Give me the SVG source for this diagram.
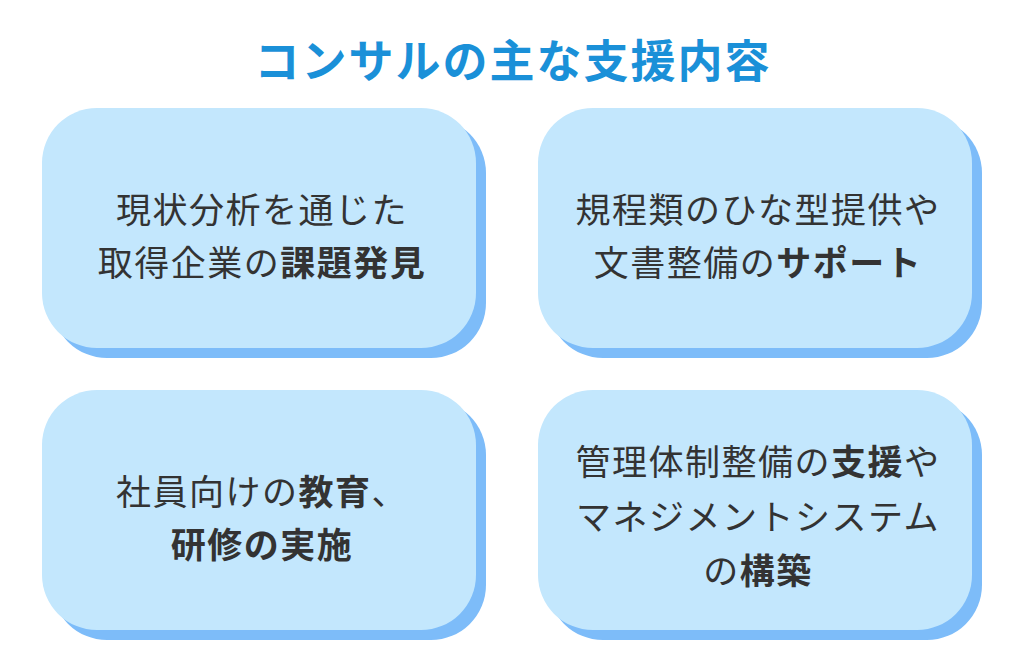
<svg xmlns="http://www.w3.org/2000/svg" width="1024" height="670" viewBox="0 0 1024 670">
<style>
.s{fill:#7dbcf9}.c{fill:#c3e7fd}
.t{font-family:"Noto Sans CJK JP","Noto Sans",sans-serif;font-size:35px;letter-spacing:1.5px;fill:#333;text-anchor:middle}
.b{font-weight:bold}
</style>
<rect width="1024" height="670" fill="#fff"/>
<text x="513" y="78" font-family="Noto Sans CJK JP,sans-serif" font-size="45" letter-spacing="2" font-weight="bold" fill="#1a90d8" text-anchor="middle">コンサルの主な支援内容</text>
<g id="n1"><rect class="s" x="52" y="118" width="434" height="240" rx="55"/><rect class="c" x="42" y="108" width="434" height="240" rx="55"/>
<text class="t" x="262" y="223">現状分析を通じた</text><text class="t" x="262" y="276">取得企業の<tspan class="b">課題発見</tspan></text></g>
<g id="n2"><rect class="s" x="548" y="118" width="434" height="240" rx="55"/><rect class="c" x="538" y="108" width="434" height="240" rx="55"/>
<text class="t" x="758" y="223">規程類のひな型提供や</text><text class="t" x="758" y="276">文書整備の<tspan class="b">サポート</tspan></text></g>
<g id="n3"><rect class="s" x="52" y="400" width="434" height="240" rx="55"/><rect class="c" x="42" y="390" width="434" height="240" rx="55"/>
<text class="t" x="262" y="505">社員向けの<tspan class="b">教育</tspan>、</text><text class="t b" x="262" y="558">研修の実施</text></g>
<g id="n4"><rect class="s" x="548" y="400" width="434" height="240" rx="55"/><rect class="c" x="538" y="390" width="434" height="240" rx="55"/>
<text class="t" x="758" y="475">管理体制整備の<tspan class="b">支援</tspan>や</text><text class="t" x="758" y="530">マネジメントシステム</text><text class="t" x="758" y="584">の<tspan class="b">構築</tspan></text></g>
<g id="connectors"/>
</svg>
